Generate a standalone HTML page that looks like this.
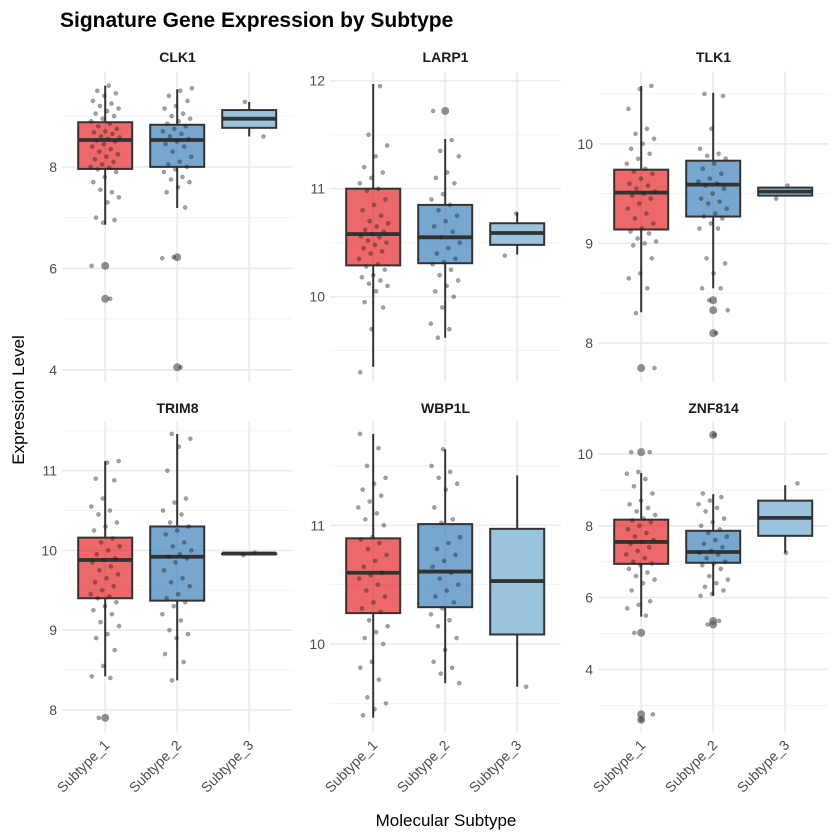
<!DOCTYPE html>
<html><head><meta charset="utf-8"><style>
html,body{margin:0;padding:0;background:#fff;}
svg{display:block;font-family:"Liberation Sans",sans-serif;}
</style></head><body>
<svg id="chart" width="840" height="840" viewBox="0 0 840 840" xmlns="http://www.w3.org/2000/svg">
<text x="60" y="27" font-size="21" font-weight="bold" fill="#000">Signature Gene Expression by Subtype</text>
<text transform="translate(24,400) rotate(-90)" text-anchor="middle" font-size="17" fill="#000">Expression Level</text>
<text x="446" y="826" text-anchor="middle" font-size="17" fill="#000">Molecular Subtype</text>
<g id="panels"></g>
</svg>
<script>
const genes = ["CLK1","LARP1","TLK1","TRIM8","WBP1L","ZNF814"];
const subtypes = ["Subtype_1","Subtype_2","Subtype_3"];
const yDomains = [[3.76,9.89],[9.21,12.09],[7.61,10.73],[7.71,11.61],[9.25,11.87],[2.23,10.89]];
const majorTicks = [[4,6,8],[10,11,12],[8,9,10],[8,9,10,11],[10,11],[4,6,8,10]];
const minorTicks = [[5,7,9],[9.5,10.5,11.5],[8,8.5,9.5,10.5],[8.5,9.5,10.5,11.5],[9.5,10.5,11.5],[3,5,7,9]];
// box stats per gene per subtype: [lower whisker, q1, median, q3, upper whisker]
const boxCLK1 = [[6.86,7.96,8.53,8.88,9.6],[7.19,8.0,8.53,8.83,9.53],[8.6,8.77,8.95,9.12,9.28]];
const boxLARP1 = [[9.35,10.29,10.58,11.0,11.97],[9.62,10.31,10.55,10.85,11.46],[10.39,10.48,10.59,10.68,10.78]];
const boxTLK1 = [[8.31,9.14,9.51,9.74,10.58],[8.55,9.27,9.59,9.83,10.51],[9.48,9.48,9.52,9.56,9.56]];
const boxTRIM8 = [[8.42,9.4,9.88,10.16,11.12],[8.37,9.37,9.92,10.3,11.46],[9.96,9.96,9.96,9.96,9.96]];
const boxWBP1L = [[9.38,10.26,10.6,10.89,11.77],[9.67,10.31,10.61,11.01,11.64],[9.64,10.08,10.53,10.97,11.42]];
const boxZNF814 = [[5.47,6.94,7.55,8.17,9.47],[6.05,6.97,7.27,7.86,8.88],[7.25,7.72,8.22,8.7,9.13]];
const boxes = [boxCLK1,boxLARP1,boxTLK1,boxTRIM8,boxWBP1L,boxZNF814];
const outCLK1 = [[6.05,5.4],[6.22,4.05],[]];
const outLARP1 = [[],[11.72],[]];
const outTLK1 = [[7.75],[8.43,8.33,8.1],[]];
const outTRIM8 = [[7.9],[],[]];
const outWBP1L = [[],[],[]];
const outZNF814 = [[10.05,5.02,2.75,2.6],[10.53,5.35,5.25],[]];
const outliers = [outCLK1,outLARP1,outTLK1,outTRIM8,outWBP1L,outZNF814];
const ptsCLK1 = [
[9.6,9.5,9.45,9.4,9.3,9.25,9.2,9.15,9.1,9.05,9.0,8.95,8.9,8.85,8.8,8.75,8.7,8.68,8.65,8.6,8.58,8.55,8.52,8.5,8.45,8.4,8.35,8.3,8.25,8.2,8.15,8.1,8.05,8.0,7.98,7.95,7.9,7.8,7.7,7.5,7.55,7.4,7.3,7.0,6.95,6.9,6.05,5.4],
[9.55,9.5,9.4,9.3,9.2,9.15,9.05,9.0,8.95,8.9,8.85,8.8,8.75,8.7,8.65,8.6,8.55,8.5,8.45,8.4,8.3,8.2,8.1,8.05,8.0,7.95,7.9,7.8,7.75,7.7,7.6,7.5,7.2,6.22,6.2,4.05],
[9.28,8.6]];
const ptsLARP1 = [
[11.95,11.5,11.4,11.3,11.2,11.15,11.1,11.05,11.0,10.98,10.9,10.85,10.8,10.75,10.7,10.68,10.65,10.62,10.6,10.58,10.56,10.55,10.52,10.5,10.48,10.45,10.42,10.4,10.35,10.3,10.28,10.25,10.2,10.18,10.15,10.12,10.1,10.05,9.95,9.9,9.7,9.3],
[11.72,11.45,11.35,11.3,11.15,11.1,11.05,10.95,10.9,10.85,10.8,10.75,10.7,10.65,10.6,10.55,10.5,10.45,10.4,10.35,10.32,10.3,10.25,10.2,10.15,10.1,10.05,10.0,9.9,9.75,9.7,9.62],
[10.77,10.38]];
const ptsTLK1 = [
[10.58,10.55,10.35,10.15,10.1,10.05,10.0,9.95,9.9,9.85,9.8,9.75,9.72,9.7,9.65,9.6,9.58,9.55,9.52,9.5,9.48,9.45,9.4,9.35,9.3,9.25,9.2,9.15,9.12,9.1,9.05,9.02,9.0,8.98,8.85,8.7,8.65,8.55,8.3,7.75],
[10.5,10.48,10.15,9.95,9.9,9.88,9.85,9.8,9.75,9.7,9.65,9.62,9.6,9.58,9.55,9.5,9.45,9.42,9.4,9.35,9.3,9.27,9.25,9.2,9.15,9.15,8.85,8.8,8.7,8.55,8.55,8.43,8.33,8.1],
[9.58,9.45]];
const ptsTRIM8 = [
[11.12,11.1,10.9,10.88,10.65,10.55,10.5,10.45,10.35,10.3,10.25,10.15,10.1,10.05,10.0,9.95,9.9,9.88,9.85,9.8,9.75,9.7,9.65,9.6,9.55,9.5,9.45,9.42,9.4,9.35,9.3,9.25,9.2,9.1,9.05,8.95,8.9,8.75,8.55,8.42,8.4,7.9],
[11.46,11.4,11.3,11.0,10.65,10.6,10.5,10.45,10.35,10.3,10.25,10.2,10.1,10.05,10.0,9.95,9.92,9.9,9.85,9.75,9.65,9.6,9.55,9.45,9.4,9.35,9.3,9.2,9.12,9.0,8.95,8.9,8.7,8.6,8.37],
[9.97,9.94]];
const ptsWBP1L = [
[11.77,11.65,11.5,11.4,11.35,11.3,11.25,11.2,11.15,11.1,11.05,11.0,10.9,10.88,10.85,10.8,10.75,10.7,10.65,10.6,10.58,10.55,10.5,10.45,10.4,10.35,10.3,10.27,10.2,10.15,10.1,10.05,10.0,9.85,9.8,9.7,9.55,9.5,9.45,9.4],
[11.64,11.5,11.45,11.4,11.35,11.3,11.15,11.05,11.02,10.9,10.85,10.8,10.75,10.7,10.65,10.6,10.55,10.5,10.45,10.4,10.35,10.3,10.25,10.2,10.15,10.05,9.95,9.85,9.8,9.75,9.67],
[9.64]];
const ptsZNF814 = [
[10.05,10.05,9.5,9.45,9.3,9.1,8.9,8.7,8.6,8.5,8.4,8.3,8.2,8.15,8.1,8.0,7.9,7.8,7.7,7.6,7.55,7.5,7.4,7.3,7.2,7.1,7.0,6.95,6.9,6.8,6.7,6.6,6.5,6.4,6.2,5.9,5.8,5.7,5.5,5.02,2.75,2.6],
[10.53,8.9,8.8,8.7,8.6,8.5,8.4,8.2,8.1,8.0,7.9,7.8,7.7,7.6,7.5,7.4,7.3,7.25,7.2,7.1,7.0,6.95,6.9,6.8,6.6,6.5,6.4,6.3,6.2,6.1,6.05,5.35,5.25],
[9.18,7.25]];
const points = [ptsCLK1,ptsLARP1,ptsTLK1,ptsTRIM8,ptsWBP1L,ptsZNF814];

const NS="http://www.w3.org/2000/svg";
const fills=["#E41A1C","#377EB8","#9ac4de"];
const fillOp=[0.66,0.68,1];
const root=document.getElementById('panels');
function mk(tag,attrs,parent){const e=document.createElementNS(NS,tag);for(const k in attrs)e.setAttribute(k,attrs[k]);parent.appendChild(e);return e;}

genes.forEach((g,gi)=>{
  const col=gi%3,row=Math.floor(gi/3);
  const px0=62+col*268,px1=px0+231;
  const py0=row===0?71:422,py1=py0+311;
  const dom=yDomains[gi];
  const y=v=>py1-(v-dom[0])/(dom[1]-dom[0])*(py1-py0);
  const x=i=>px0+(i+0.6)*72;
  const pg=mk('g',{},root);
  
  
  const st=mk('text',{x:(px0+px1)/2,y:py0-9,'text-anchor':'middle','font-size':14,'font-weight':'bold',fill:'#1a1a1a'},pg);
  st.textContent=g;
  
  
  minorTicks[gi].forEach(t=>{const l=mk('line',{x1:px0,x2:px1,y1:y(t),y2:y(t),stroke:'#f3f3f3','stroke-width':1},pg);
    
    });
  majorTicks[gi].forEach(t=>{const l=mk('line',{x1:px0,x2:px1,y1:y(t),y2:y(t),stroke:'#ebebeb','stroke-width':1.6},pg);
    
    
    const tl=mk('text',{x:px0-5,y:y(t)+5,'text-anchor':'end','font-size':14,fill:'#4d4d4d'},pg);
    tl.textContent=String(t);
    
    });
  subtypes.forEach((s,si)=>{const l=mk('line',{x1:x(si),x2:x(si),y1:py0,y2:py1,stroke:'#ebebeb','stroke-width':1.6},pg);
    
    
    if(row===1){const tl=mk('text',{transform:`translate(${x(si)+5},${py1+13}) rotate(-45)`,'text-anchor':'end','font-size':14,fill:'#4d4d4d'},pg);
      tl.textContent=s;
      
      }
  });
  boxes[gi].forEach((b,si)=>{
    const cx=x(si),hw=27;
    const bg=mk('g',{},pg);
    
    
    mk('line',{x1:cx,x2:cx,y1:y(b[0]),y2:y(b[1]),stroke:'#333','stroke-width':2},bg);
    mk('line',{x1:cx,x2:cx,y1:y(b[3]),y2:y(b[4]),stroke:'#333','stroke-width':2},bg);
    mk('rect',{x:cx-hw,y:y(b[3]),width:hw*2,height:Math.max(0.5,y(b[1])-y(b[3])),fill:fills[si],'fill-opacity':fillOp[si],stroke:'#333','stroke-width':2},bg);
    mk('line',{x1:cx-hw,x2:cx+hw,y1:y(b[2]),y2:y(b[2]),stroke:'#333','stroke-width':3.8},bg);
    outliers[gi][si].forEach(v=>{const c=mk('circle',{cx:cx,cy:y(v),r:4,fill:'#555','fill-opacity':0.65},bg);
      
      });
  });
  points[gi].forEach((arr,si)=>{
    arr.forEach((v,i)=>{
      const f=((i+1)*0.6180339+si*0.37+gi*0.11)%1;
      const c=mk('circle',{cx:x(si)+(f-0.5)*30,cy:y(v),r:2.1,fill:'#222','fill-opacity':0.42,stroke:'#222','stroke-opacity':0.3,'stroke-width':0.5},pg);
      
      
    });
  });
});
</script>
</body></html>
